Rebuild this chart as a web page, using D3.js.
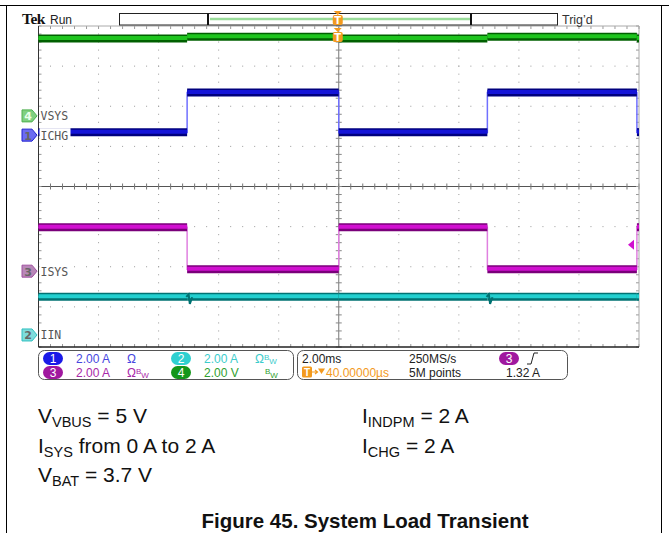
<!DOCTYPE html>
<html><head><meta charset="utf-8">
<script src="https://cdn.jsdelivr.net/npm/d3@7"></script>
<style>body{margin:0;background:#fff}svg{display:block}</style>
</head><body><svg id="c" width="669" height="533"></svg>
<script>
// ---------------- data ----------------
const segEdges   = [-10, -5.05, 0, 4.95, 9.93, 10];      // ms, boundaries of flat segments
const vsysLevels = [3.86, 3.95, 3.86, 3.95, 3.86];        // V
const ichgLevels = [0.15, 2.12, 0.15, 2.12, 0.15];        // A
const isysLevels = [2.19, 0.10, 2.19, 0.10, 2.19];        // A
const iinLevels  = [1.90, 1.90, 1.90, 1.90, 1.90];        // A
const iinGlitch1 = [[-5.08, 1.90], [-5.00, 2.02], [-4.96, 1.55], [-4.88, 1.88]];
const iinGlitch2 = [[4.92, 1.90], [5.00, 2.02], [5.04, 1.55], [5.12, 1.88]];
const chNames    = ["VSYS", "ICHG", "ISYS", "IIN"];
const chNumbers  = [4, 1, 3, 2];
const chScales   = [2, 2, 2, 2];            // units / div
const chOffsets  = [1.76, 1.28, -2.11, -3.70]; // ground position, divisions from centre
const trigLevel  = 1.32;                    // A on CH3
const timeDivMs  = 2;
const statusRow1 = [["1", "2.00 A", "Ω", ""], ["2", "2.00 A", "Ω", "BW"]];
const statusRow2 = [["3", "2.00 A", "Ω", "BW"], ["4", "2.00 V", "", "BW"]];
const conditionsLeft  = [["V", "VBUS", " = 5 V"], ["I", "SYS", " from 0 A to 2 A"], ["V", "BAT", " = 3.7 V"]];
const conditionsRight = [["I", "INDPM", " = 2 A"], ["I", "CHG", " = 2 A"]];
const caption = "Figure 45. System Load Transient";

// ---------------- styles ----------------
const chStyle = {
  1: {outer: "#00007e", inner: "#1414d8", thin: "#7070ff", mark: "#6c6cf2", markStroke: "#2020d0", badge: "#1a1ae8", txt: "#4646e0"},
  2: {outer: "#007272", inner: "#22cfcf", thin: "#70e0e0", mark: "#7fdcdc", markStroke: "#30c0c0", badge: "#2ed0d0", txt: "#3ccccc"},
  3: {outer: "#7a007a", inner: "#d010d0", thin: "#e080e0", mark: "#b888b8", markStroke: "#a050a0", badge: "#a0189f", txt: "#a828a8"},
  4: {outer: "#006000", inner: "#1ec41e", thin: "#70d870", mark: "#80d080", markStroke: "#50b050", badge: "#14961a", txt: "#30a030"}
};
const orange = "#f39a1e";

const svg = d3.select("#c");
svg.append("rect").attr("width", 669).attr("height", 533).attr("fill", "#fff");

// page frame
svg.append("line").attr("x1", 0).attr("x2", 669).attr("y1", 5.5).attr("y2", 5.5).attr("stroke", "#000");
svg.append("line").attr("x1", 6.5).attr("x2", 6.5).attr("y1", 5.5).attr("y2", 533).attr("stroke", "#000");
svg.append("line").attr("x1", 661.5).attr("x2", 661.5).attr("y1", 5.5).attr("y2", 533).attr("stroke", "#000");

// scales
const gL = 38.5, gR = 639, gT = 26, gB = 347;
const x = d3.scaleLinear().domain([-5 * timeDivMs, 5 * timeDivMs]).range([gL, gR]);
const yd = d3.scaleLinear().domain([-4, 4]).range([gB, gT]);
const yCh = i => v => yd(v / chScales[i] + chOffsets[i]);

// ---------------- graticule ----------------
const grid = svg.append("g");
const minorX = d3.range(-25, 26).map(k => k * timeDivMs / 5);
const minorY = d3.range(-20, 21).map(k => k / 5);
for (let i = -4; i <= 4; i++) {
  if (i === 0) continue;
  grid.selectAll(null).data(minorY.filter(v => v > -4 && v < 4)).enter().append("rect")
    .attr("x", x(i * timeDivMs) - 0.5).attr("y", d => yd(d) - 0.5).attr("width", 1).attr("height", 1).attr("fill", "#9a9a9a");
}
for (let j = -3; j <= 3; j++) {
  if (j === 0) continue;
  grid.selectAll(null).data(minorX.filter(v => v > -10 && v < 10)).enter().append("rect")
    .attr("x", d => x(d) - 0.5).attr("y", yd(j) - 0.5).attr("width", 1).attr("height", 1).attr("fill", "#9a9a9a");
}
grid.append("line").attr("x1", gL).attr("x2", gR).attr("y1", yd(0)).attr("y2", yd(0)).attr("stroke", "#555");
grid.append("line").attr("x1", x(0)).attr("x2", x(0)).attr("y1", gT).attr("y2", gB).attr("stroke", "#777");
grid.selectAll(null).data(minorX).enter().append("line")
  .attr("x1", d => x(d)).attr("x2", d => x(d)).attr("y1", yd(0) - 3).attr("y2", yd(0) + 3).attr("stroke", "#777");
grid.selectAll(null).data(minorY).enter().append("line")
  .attr("y1", d => yd(d)).attr("y2", d => yd(d)).attr("x1", x(0) - 3).attr("x2", x(0) + 3).attr("stroke", "#888");
grid.selectAll(null).data(minorX).enter().append("line")
  .attr("x1", d => x(d)).attr("x2", d => x(d)).attr("y1", gT).attr("y2", gT + 3).attr("stroke", "#999");
grid.selectAll(null).data(minorX).enter().append("line")
  .attr("x1", d => x(d)).attr("x2", d => x(d)).attr("y1", gB - 3).attr("y2", gB).attr("stroke", "#999");
grid.selectAll(null).data(minorY).enter().append("line")
  .attr("y1", d => yd(d)).attr("y2", d => yd(d)).attr("x1", gL).attr("x2", gL + 3).attr("stroke", "#999");
grid.selectAll(null).data(minorY).enter().append("line")
  .attr("y1", d => yd(d)).attr("y2", d => yd(d)).attr("x1", gR - 3).attr("x2", gR).attr("stroke", "#999");
grid.append("line").attr("x1", gL).attr("x2", gR).attr("y1", gT).attr("y2", gT).attr("stroke", "#aaa");
grid.append("line").attr("x1", gR).attr("x2", gR).attr("y1", gT).attr("y2", gB).attr("stroke", "#aaa");
grid.append("line").attr("x1", gL).attr("x2", gL).attr("y1", gT).attr("y2", gB).attr("stroke", "#333");
grid.append("line").attr("x1", gL).attr("x2", gR).attr("y1", gB).attr("y2", gB).attr("stroke", "#222").attr("stroke-width", 1.5);

// ---------------- traces ----------------
const traces = svg.append("g");
const allLevels = [vsysLevels, ichgLevels, isysLevels, iinLevels];
const line = d3.line();
allLevels.forEach((lev, i) => {
  const y = yCh(i), st = chStyle[chNumbers[i]];
  const segs = lev.map((v, k) => ({t0: segEdges[k], t1: segEdges[k + 1], v}));
  const path = [];
  segs.forEach(s => { path.push([x(s.t0), y(s.v)]); path.push([x(s.t1), y(s.v)]); });
  traces.append("path").attr("d", line(path)).attr("fill", "none").attr("stroke", st.thin).attr("stroke-width", 1.5);
  segs.forEach(s => {
    traces.append("line").attr("x1", x(s.t0)).attr("x2", x(s.t1)).attr("y1", y(s.v)).attr("y2", y(s.v))
      .attr("stroke", st.outer).attr("stroke-width", 8);
    traces.append("line").attr("x1", x(s.t0)).attr("x2", x(s.t1)).attr("y1", y(s.v) - 0.5).attr("y2", y(s.v) - 0.5)
      .attr("stroke", st.inner).attr("stroke-width", 4);
  });
  if (chNumbers[i] === 2) {
    [iinGlitch1, iinGlitch2].forEach(g => {
      traces.append("path").attr("d", line(g.map(p => [x(p[0]), y(p[1])])))
        .attr("fill", "none").attr("stroke", st.outer).attr("stroke-width", 2);
    });
  }
});

// trigger level marker (CH3)
{
  const ty = yCh(2)(trigLevel), tx = gR - 6;
  svg.append("path").attr("d", `M${tx - 5},${ty} L${tx + 1},${ty - 5} L${tx + 1},${ty + 5} Z`).attr("fill", chStyle[3].inner);
}

// ---------------- channel markers + labels ----------------
chNames.forEach((name, i) => {
  const n = chNumbers[i], st = chStyle[n], y = yCh(i)(0);
  const g = svg.append("g");
  g.append("rect").attr("x", gL + 1).attr("y", y - 7).attr("width", name.length * 7 + 3).attr("height", 13).attr("fill", "#fff");
  g.append("path").attr("d", `M22,${y - 6} L32,${y - 6} L37,${y} L32,${y + 6} L22,${y + 6} Z`)
    .attr("fill", st.mark).attr("stroke", st.markStroke).attr("stroke-width", 1);
  g.append("text").attr("x", 28).attr("y", y + 4.5).attr("text-anchor", "middle")
    .attr("font-family", "DejaVu Sans").attr("font-size", 11).attr("font-weight", "bold")
    .attr("fill", n === 4 ? "#eaffea" : "#666").text(n);
  g.append("text").attr("x", gL + 2).attr("y", y + 4.5).attr("font-family", "DejaVu Sans Mono, Liberation Mono")
    .attr("font-size", 11.5).attr("fill", "#555").text(name);
});

// ---------------- top bar ----------------
svg.append("text").attr("x", 22).attr("y", 24).attr("font-family", "Liberation Serif").attr("font-weight", "bold")
  .attr("font-size", 15.5).attr("fill", "#111").attr("letter-spacing", -0.5).text("Tek");
svg.append("text").attr("x", 50).attr("y", 24).attr("font-family", "Liberation Sans Narrow, Liberation Sans")
  .attr("font-size", 12).attr("fill", "#222").text("Run");
svg.append("rect").attr("x", 119.5).attr("y", 13.5).attr("width", 438).attr("height", 11.5).attr("fill", "#fff").attr("stroke", "#222");
svg.append("line").attr("x1", 210).attr("x2", 470).attr("y1", 19).attr("y2", 19).attr("stroke", "#9adc9a").attr("stroke-width", 2.5);
[208, 471].forEach(v => svg.append("line").attr("x1", v).attr("x2", v).attr("y1", 13.5).attr("y2", 25).attr("stroke", "#111").attr("stroke-width", 2));
svg.append("text").attr("x", 562).attr("y", 24).attr("font-family", "Liberation Sans Narrow, Liberation Sans")
  .attr("font-size", 12.5).attr("fill", "#333").text("Trig\u2019d");

function tMarker(cx, top) {
  const g = svg.append("g");
  g.append("path").attr("d", `M${cx - 4},${top} L${cx + 4},${top} L${cx},${top + 4} Z`).attr("fill", orange);
  g.append("rect").attr("x", cx - 5).attr("y", top + 4).attr("width", 10).attr("height", 10).attr("rx", 2).attr("fill", orange);
  g.append("text").attr("x", cx).attr("y", top + 13).attr("text-anchor", "middle").attr("font-family", "DejaVu Sans")
    .attr("font-weight", "bold").attr("font-size", 10).attr("fill", "#fff").text("T");
}
tMarker(x(0) - 1, 11);
tMarker(x(0) - 1, 28);

// ---------------- status bar ----------------
const sb = svg.append("g").attr("font-family", "Liberation Sans").attr("font-size", 12);
sb.append("rect").attr("x", 38.5).attr("y", 350.5).attr("width", 255).attr("height", 29).attr("rx", 6).attr("fill", "#fff").attr("stroke", "#555");
sb.append("rect").attr("x", 297.5).attr("y", 350.5).attr("width", 270).attr("height", 29).attr("rx", 6).attr("fill", "#fff").attr("stroke", "#555");
function badge(cx, cy, color, label) {
  sb.append("rect").attr("x", cx - 10).attr("y", cy - 6.5).attr("width", 20).attr("height", 13).attr("rx", 6.5).attr("fill", color);
  sb.append("text").attr("x", cx).attr("y", cy + 4.5).attr("text-anchor", "middle").attr("fill", "#fff").attr("font-size", 12).text(label);
}
[[statusRow1, 358.5], [statusRow2, 372.5]].forEach(([row, cy]) => {
  row.forEach((c, k) => {
    const n = +c[0], st = chStyle[n], x0 = k === 0 ? 53 : 181;
    badge(x0, cy, st.badge, c[0]);
    sb.append("text").attr("x", x0 + 23).attr("y", cy + 4.5).attr("fill", st.txt).text(c[1]);
    const t = sb.append("text").attr("x", x0 + 74).attr("y", cy + 4.5).attr("fill", st.txt).text(c[2]);
    if (c[3]) t.append("tspan").attr("font-size", 8).attr("dy", -3).text("B")
      .append("tspan").attr("font-size", 8).attr("dy", 4).text("W");
    if (!c[2] && c[3]) t.attr("x", x0 + 84);
  });
});
sb.append("text").attr("x", 302).attr("y", 363).attr("fill", "#222").text(timeDivMs.toFixed(2) + "ms");
sb.append("text").attr("x", 409).attr("y", 363).attr("fill", "#222").text("250MS/s");
sb.append("text").attr("x", 409).attr("y", 377).attr("fill", "#222").text("5M points");
badge(509, 358.5, chStyle[3].badge, "3");
sb.append("path").attr("d", "M527,364 L531,364 L534,353 L538,353").attr("fill", "none").attr("stroke", "#222").attr("stroke-width", 1);
sb.append("text").attr("x", 506).attr("y", 377).attr("fill", "#222").text(trigLevel.toFixed(2) + " A");
sb.append("rect").attr("x", 302).attr("y", 366.5).attr("width", 10).attr("height", 11).attr("rx", 1.5).attr("fill", orange);
sb.append("text").attr("x", 307).attr("y", 376).attr("text-anchor", "middle").attr("fill", "#fff").attr("font-size", 10).attr("font-weight", "bold").text("T");
sb.append("path").attr("d", "M312,372 L317,372 M315,370 L317.5,372 L315,374").attr("fill", "none").attr("stroke", orange).attr("stroke-width", 1.2);
sb.append("path").attr("d", "M318,368.5 L325,368.5 L321.5,374 Z").attr("fill", orange);
sb.append("text").attr("x", 326).attr("y", 376.5).attr("fill", orange).text("40.00000\u00B5s");

// ---------------- conditions text ----------------
const tx = svg.append("g").attr("font-family", "Liberation Sans, Arial").attr("font-size", 21).attr("fill", "#111");
function cond(xp, yp, c) {
  const t = tx.append("text").attr("x", xp).attr("y", yp);
  t.append("tspan").text(c[0]);
  t.append("tspan").attr("font-size", 14.5).attr("dy", 4).text(c[1]);
  t.append("tspan").attr("dy", -4).text(c[2]);
}
conditionsLeft.forEach((c, k) => cond(38, 423 + k * 29.5, c));
conditionsRight.forEach((c, k) => cond(362, 423 + k * 29.5, c));
svg.append("text").attr("x", 365).attr("y", 527.5).attr("text-anchor", "middle").attr("font-family", "Liberation Sans, Arial")
  .attr("font-weight", "bold").attr("font-size", 20.5).attr("fill", "#111").text(caption);
</script></body></html>
